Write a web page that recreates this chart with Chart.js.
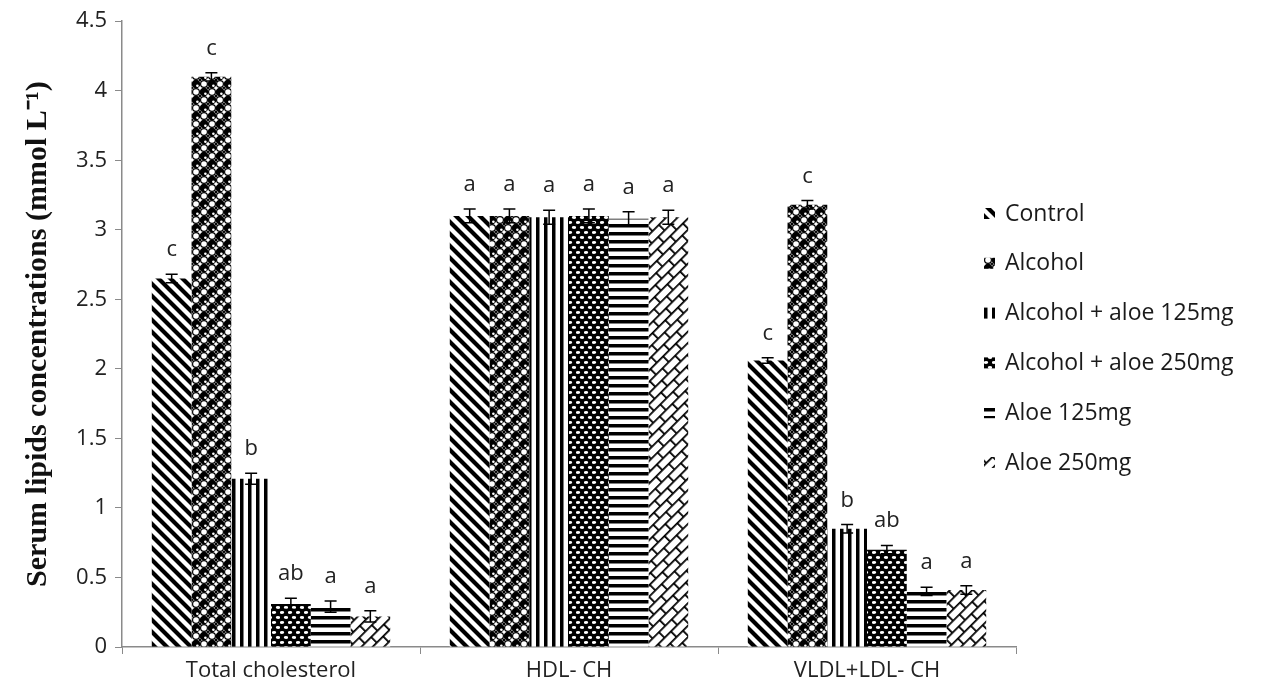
<!DOCTYPE html>
<html>
<head>
<meta charset="utf-8">
<script src="https://cdn.jsdelivr.net/npm/chart.js@4.4.1/dist/chart.umd.min.js"></script>
<style>
  html, body { margin: 0; padding: 0; background: #fff; }
  #wrap { width: 1262px; height: 695px; }
</style>
</head>
<body>
<div id="wrap"><canvas id="lipidChart" width="1262" height="695"></canvas></div>
<script>
const categories = ['Total cholesterol', 'HDL- CH', 'VLDL+LDL- CH'];
const groups = ['Control', 'Alcohol', 'Alcohol + aloe 125mg', 'Alcohol + aloe 250mg', 'Aloe 125mg', 'Aloe 250mg'];

const control = [2.65, 3.10, 2.06];
const alcohol = [4.10, 3.10, 3.18];
const alcAloe125 = [1.21, 3.09, 0.85];
const alcAloe250 = [0.31, 3.10, 0.70];
const aloe125 = [0.29, 3.08, 0.40];
const aloe250 = [0.22, 3.09, 0.41];

const errControl = [0.03, 0.05, 0.02];
const errAlcohol = [0.03, 0.05, 0.03];
const errAlcAloe125 = [0.04, 0.05, 0.03];
const errAlcAloe250 = [0.04, 0.05, 0.03];
const errAloe125 = [0.04, 0.05, 0.03];
const errAloe250 = [0.04, 0.05, 0.03];

const letControl = ['c', 'a', 'c'];
const letAlcohol = ['c', 'a', 'c'];
const letAlcAloe125 = ['b', 'a', 'b'];
const letAlcAloe250 = ['ab', 'a', 'ab'];
const letAloe125 = ['a', 'a', 'a'];
const letAloe250 = ['a', 'a', 'a'];

const yTicks = [0, 0.5, 1, 1.5, 2, 2.5, 3, 3.5, 4, 4.5];

const series = [control, alcohol, alcAloe125, alcAloe250, aloe125, aloe250];
const errors = [errControl, errAlcohol, errAlcAloe125, errAlcAloe250, errAloe125, errAloe250];
const letters = [letControl, letAlcohol, letAlcAloe125, letAlcAloe250, letAloe125, letAloe250];

const FONT = 'Open Sans';

// black & white hatch fills
function tile(w, h, draw) {
    const c = document.createElement('canvas');
    c.width = w; c.height = h;
    const g = c.getContext('2d');
    g.fillStyle = '#fff';
    g.fillRect(0, 0, w, h);
    g.fillStyle = '#000';
    g.strokeStyle = '#000';
    draw(g);
    return g.createPattern(c, 'repeat');
}

const ctx0 = document.getElementById('lipidChart').getContext('2d');

const patterns = [
    tile(12, 12, g => {
        g.lineWidth = 4.2;
        g.beginPath();
        g.moveTo(-6, -6); g.lineTo(18, 18);
        g.moveTo(-6, 6); g.lineTo(6, 18);
        g.moveTo(6, -6); g.lineTo(18, 6);
        g.stroke();
    }),
    tile(16, 16, g => {
        g.lineWidth = 1.1;
        g.beginPath();
        g.moveTo(8, 0); g.lineTo(16, 8); g.lineTo(8, 16); g.lineTo(0, 8); g.closePath();
        g.stroke();
        // solid balls with a small highlight
        [[4, 4], [12, 12]].forEach(([x, y]) => {
            g.fillStyle = '#000';
            g.beginPath(); g.arc(x, y, 4.3, 0, Math.PI * 2); g.fill();
            g.fillStyle = '#fff';
            g.beginPath(); g.arc(x + 1.4, y + 1.8, 1.3, 0, Math.PI * 2); g.fill();
        });
        // open rings in between
        [[12, 4], [4, 12]].forEach(([x, y]) => {
            g.fillStyle = '#000';
            g.beginPath(); g.arc(x, y, 4.0, 0, Math.PI * 2); g.fill();
            g.fillStyle = '#fff';
            g.beginPath(); g.arc(x, y, 2.8, 0, Math.PI * 2); g.fill();
        });
    }),
    tile(8, 8, g => { g.fillRect(0, 0, 3.5, 8); }),
    tile(8, 10, g => {
        g.fillRect(0, 0, 8, 10);
        g.fillStyle = '#fff';
        g.beginPath(); g.ellipse(2, 2.5, 2.2, 1.4, 0, 0, Math.PI * 2); g.fill();
        g.beginPath(); g.ellipse(6, 7.5, 2.2, 1.4, 0, 0, Math.PI * 2); g.fill();
    }),
    tile(8, 8, g => { g.fillRect(0, 0, 8, 3.5); }),
    tile(18, 16, g => {
        g.lineWidth = 1.8;
        g.beginPath();
        g.moveTo(0, 0.9); g.lineTo(18, 0.9);
        g.moveTo(0, 8.9); g.lineTo(18, 8.9);
        g.moveTo(0.9, 0); g.lineTo(0.9, 8.9);
        g.moveTo(9.9, 8.9); g.lineTo(9.9, 16);
        g.stroke();
    })
];
patterns[5].setTransform(new DOMMatrix().rotateSelf(-45));

const errorBars = {
    id: 'errorBars',
    afterDatasetsDraw(chart) {
        const { ctx, scales: { y } } = chart;
        ctx.save();
        ctx.strokeStyle = '#000';
        ctx.lineWidth = 1.5;
        ctx.fillStyle = '#222';
        ctx.font = `22px "${FONT}"`;
        ctx.textAlign = 'center';
        ctx.textBaseline = 'alphabetic';
        chart.data.datasets.forEach((ds, di) => {
            chart.getDatasetMeta(di).data.forEach((bar, i) => {
                const v = ds.data[i], e = errors[di][i];
                const top = y.getPixelForValue(v + e);
                const bot = y.getPixelForValue(v - e);
                ctx.beginPath();
                ctx.moveTo(bar.x, top); ctx.lineTo(bar.x, bot);
                ctx.moveTo(bar.x - 6, top); ctx.lineTo(bar.x + 6, top);
                ctx.moveTo(bar.x - 6, bot); ctx.lineTo(bar.x + 6, bot);
                ctx.stroke();
                ctx.fillText(letters[di][i], bar.x, top - 18);
            });
        });
        ctx.restore();
    }
};

const sideLegend = {
    id: 'sideLegend',
    afterDraw(chart) {
        const { ctx } = chart;
        ctx.save();
        ctx.font = `23px "${FONT}"`;
        ctx.textBaseline = 'middle';
        chart.data.datasets.forEach((ds, i) => {
            const y = 214 + i * 49.8;
            ctx.fillStyle = ds.backgroundColor;
            ctx.fillRect(984, y - 6, 11, 11);
            ctx.fillStyle = '#1a1a1a';
            ctx.fillText(ds.label, 1005, y);
        });
        ctx.restore();
    }
};

new Chart(ctx0, {
    type: 'bar',
    data: {
        labels: categories,
        datasets: groups.map((g, i) => ({
            label: g,
            data: series[i],
            backgroundColor: patterns[i],
            borderWidth: 0,
            categoryPercentage: 0.8,
            barPercentage: 1
        }))
    },
    options: {
        responsive: false,
        animation: false,
        layout: { padding: { top: 20, right: 246, left: 0, bottom: 0 } },
        plugins: {
            legend: { display: false },
            tooltip: { enabled: false }
        },
        scales: {
            x: {
                grid: { display: true, drawOnChartArea: false, color: '#8a8a8a', tickLength: 7, offset: true },
                border: { color: '#8a8a8a', width: 1.5 },
                ticks: { color: '#222', font: { family: FONT, size: 22 }, padding: 4 },
                afterFit: s => { s.height = 48; }
            },
            y: {
                min: 0,
                max: 4.5,
                afterBuildTicks: s => { s.ticks = yTicks.map(v => ({ value: v })); },
                grid: { display: true, drawOnChartArea: false, color: '#8a8a8a', tickLength: 7 },
                border: { color: '#8a8a8a', width: 1.5 },
                ticks: {
                    color: '#222',
                    font: { family: FONT, size: 22 },
                    padding: 8,
                    callback: v => String(v)
                },
                title: {
                    display: true,
                    text: 'Serum lipids concentrations (mmol L\u207B\u00B9)',
                    color: '#111',
                    font: { family: 'Liberation Serif', size: 30, weight: 'bold' },
                    padding: { top: 20, bottom: 0 }
                },
                afterFit: s => { s.width = 122; }
            }
        }
    },
    plugins: [errorBars, sideLegend]
});
</script>
</body>
</html>
